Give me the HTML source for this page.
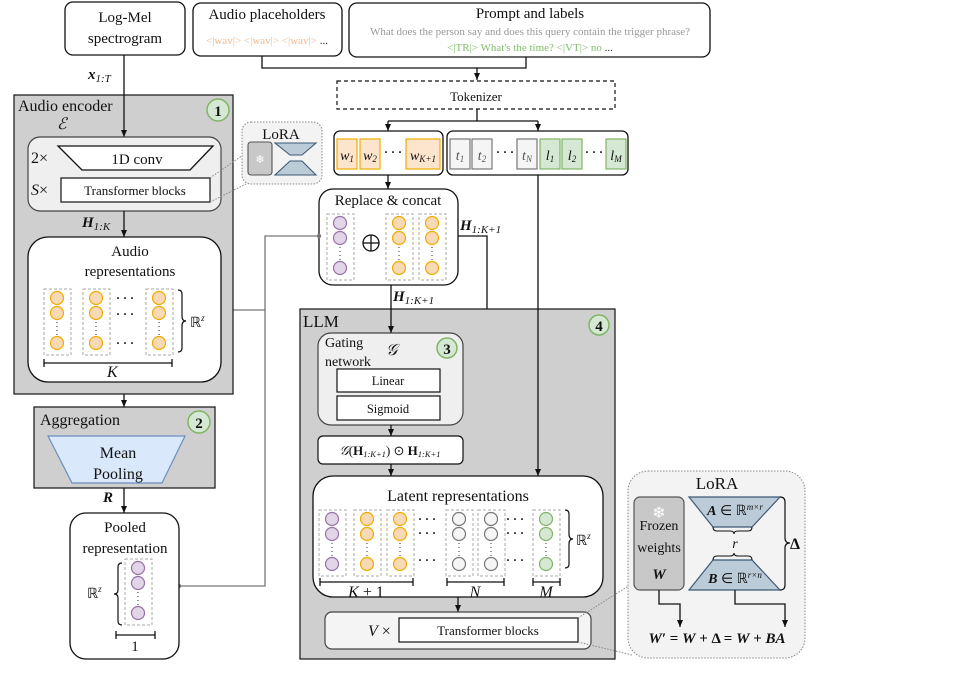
<!DOCTYPE html>
<html><head><meta charset="utf-8"><style>
html,body{margin:0;padding:0;background:#fff}
svg{display:block}
text{font-family:"Liberation Serif",serif;fill:#111}
.i{font-style:italic}
.b{font-weight:bold}
</style></head><body>
<svg width="964" height="676" viewBox="0 0 964 676" xmlns="http://www.w3.org/2000/svg">
<defs>
<marker id="ar" markerWidth="8" markerHeight="8" refX="7" refY="4" orient="auto" markerUnits="userSpaceOnUse"><path d="M0,1 L7,4 L0,7 z" fill="#111"/></marker>
<g id="oc"><rect x="-13" y="-9" width="27" height="66" fill="none" stroke="#aaa" stroke-dasharray="3,2"/><circle cx="0" cy="0" r="6.5" fill="#f8d9b5" stroke="#f0ad00" stroke-width="1.2"/><circle cx="0" cy="15" r="6.5" fill="#f8d9b5" stroke="#f0ad00" stroke-width="1.2"/><circle cx="0" cy="45" r="6.5" fill="#f8d9b5" stroke="#f0ad00" stroke-width="1.2"/><line x1="0" y1="24" x2="0" y2="37" stroke="#333" stroke-dasharray="1,3"/></g>
<g id="pc"><rect x="-13" y="-9" width="27" height="66" fill="none" stroke="#aaa" stroke-dasharray="3,2"/><circle cx="0" cy="0" r="6.5" fill="#e1d5e7" stroke="#9673a6" stroke-width="1.2"/><circle cx="0" cy="15" r="6.5" fill="#e1d5e7" stroke="#9673a6" stroke-width="1.2"/><circle cx="0" cy="45" r="6.5" fill="#e1d5e7" stroke="#9673a6" stroke-width="1.2"/><line x1="0" y1="24" x2="0" y2="37" stroke="#333" stroke-dasharray="1,3"/></g>
<g id="gc"><rect x="-13" y="-9" width="27" height="66" fill="none" stroke="#aaa" stroke-dasharray="3,2"/><circle cx="0" cy="0" r="6.5" fill="#f5f5f5" stroke="#777" stroke-width="1.2"/><circle cx="0" cy="15" r="6.5" fill="#f5f5f5" stroke="#777" stroke-width="1.2"/><circle cx="0" cy="45" r="6.5" fill="#f5f5f5" stroke="#777" stroke-width="1.2"/><line x1="0" y1="24" x2="0" y2="37" stroke="#333" stroke-dasharray="1,3"/></g>
<g id="lc"><rect x="-13" y="-9" width="27" height="66" fill="none" stroke="#aaa" stroke-dasharray="3,2"/><circle cx="0" cy="0" r="6.5" fill="#d5e8d4" stroke="#82b366" stroke-width="1.2"/><circle cx="0" cy="15" r="6.5" fill="#d5e8d4" stroke="#82b366" stroke-width="1.2"/><circle cx="0" cy="45" r="6.5" fill="#d5e8d4" stroke="#82b366" stroke-width="1.2"/><line x1="0" y1="24" x2="0" y2="37" stroke="#333" stroke-dasharray="1,3"/></g>
</defs>

<rect x="65" y="2" width="120" height="53" rx="8" fill="#fff" stroke="#111" stroke-width="1.3"/>
<text x="125" y="22" font-size="15" text-anchor="middle">Log-Mel</text>
<text x="125" y="43" font-size="15" text-anchor="middle">spectrogram</text>
<rect x="193" y="3" width="149" height="53" rx="8" fill="#fff" stroke="#111" stroke-width="1.3"/>
<text x="267" y="19" font-size="15" text-anchor="middle">Audio placeholders</text>
<text x="267" y="44" font-size="11" text-anchor="middle" style="fill:#f5b88a">&lt;|wav|&gt; &lt;|wav|&gt; &lt;|wav|&gt; <tspan style="fill:#333">...</tspan></text>
<rect x="349" y="3" width="361" height="54" rx="8" fill="#fff" stroke="#111" stroke-width="1.3"/>
<text x="530" y="18" font-size="15" text-anchor="middle">Prompt and labels</text>
<text x="530" y="35" font-size="11" text-anchor="middle" style="fill:#999">What does the person say and does this query contain the trigger phrase?</text>
<text x="530" y="51" font-size="11" text-anchor="middle" style="fill:#7fbf6a">&lt;|TR|&gt; What's the time? &lt;|VT|&gt; no <tspan style="fill:#333">...</tspan></text>

<polyline points="262,56 262,68 526,68 526,57" fill="none" stroke="#111" stroke-width="1.3"/>
<line x1="477" y1="68" x2="477" y2="80" stroke="#111" stroke-width="1.3" marker-end="url(#ar)"/>
<rect x="337" y="81" width="278" height="28" fill="#fff" stroke="#111" stroke-width="1.2" stroke-dasharray="4,3"/>
<text x="476" y="101" font-size="13" text-anchor="middle">Tokenizer</text>
<line x1="477" y1="109" x2="477" y2="121" stroke="#111" stroke-width="1.3"/>
<line x1="388" y1="121" x2="538" y2="121" stroke="#111" stroke-width="1.3"/>
<line x1="388" y1="121" x2="388" y2="131" stroke="#111" stroke-width="1.3" marker-end="url(#ar)"/>
<line x1="538" y1="121" x2="538" y2="131" stroke="#111" stroke-width="1.3" marker-end="url(#ar)"/>

<rect x="334" y="131" width="109" height="44" rx="6" fill="#fff" stroke="#111" stroke-width="1.3"/>
<rect x="337" y="139" width="20" height="30" fill="#fde4cc" stroke="#f0ad00" stroke-width="1.2"/>
<rect x="360" y="139" width="20" height="30" fill="#fde4cc" stroke="#f0ad00" stroke-width="1.2"/>
<rect x="406" y="139" width="34" height="30" fill="#fde4cc" stroke="#f0ad00" stroke-width="1.2"/>
<text x="347" y="160" font-size="14" text-anchor="middle" class="i">w<tspan font-size="9" dy="2">1</tspan></text>
<text x="370" y="160" font-size="14" text-anchor="middle" class="i">w<tspan font-size="9" dy="2">2</tspan></text>
<text x="393" y="156" font-size="12" text-anchor="middle" class="b">· · ·</text>
<text x="423" y="160" font-size="14" text-anchor="middle" class="i">w<tspan font-size="9" dy="2">K+1</tspan></text>
<rect x="447" y="131" width="181" height="44" rx="6" fill="#fff" stroke="#111" stroke-width="1.3"/>
<g stroke="#777" stroke-width="1.2" fill="#f5f5f5"><rect x="450" y="139" width="20" height="30"/><rect x="472" y="139" width="20" height="30"/><rect x="517" y="139" width="20" height="30"/></g>
<g stroke="#82b366" stroke-width="1.2" fill="#d5e8d4"><rect x="540" y="139" width="20" height="30"/><rect x="562" y="139" width="20" height="30"/><rect x="606" y="139" width="20" height="30"/></g>
<text x="460" y="160" font-size="14" text-anchor="middle" class="i" style="fill:#555">t<tspan font-size="9" dy="2">1</tspan></text>
<text x="482" y="160" font-size="14" text-anchor="middle" class="i" style="fill:#555">t<tspan font-size="9" dy="2">2</tspan></text>
<text x="505" y="156" font-size="12" text-anchor="middle" class="b">· · ·</text>
<text x="527" y="160" font-size="14" text-anchor="middle" class="i" style="fill:#555">t<tspan font-size="9" dy="2">N</tspan></text>
<text x="550" y="160" font-size="14" text-anchor="middle" class="i">l<tspan font-size="9" dy="2">1</tspan></text>
<text x="572" y="160" font-size="14" text-anchor="middle" class="i">l<tspan font-size="9" dy="2">2</tspan></text>
<text x="594" y="156" font-size="12" text-anchor="middle" class="b">· · ·</text>
<text x="616" y="160" font-size="14" text-anchor="middle" class="i">l<tspan font-size="9" dy="2">M</tspan></text>

<line x1="388" y1="175" x2="388" y2="189" stroke="#111" stroke-width="1.3" marker-end="url(#ar)"/>
<rect x="319" y="189" width="139" height="96" rx="14" fill="#fff" stroke="#111" stroke-width="1.3"/>
<text x="388" y="205" font-size="15" text-anchor="middle">Replace &amp; concat</text>
<use href="#pc" x="340" y="223"/>
<use href="#oc" x="399" y="223"/>
<use href="#oc" x="432" y="223"/>
<circle cx="371" cy="243" r="8" fill="none" stroke="#111" stroke-width="1.3"/>
<line x1="363" y1="243" x2="379" y2="243" stroke="#111" stroke-width="1.3"/><line x1="371" y1="235" x2="371" y2="251" stroke="#111" stroke-width="1.3"/>

<text x="460" y="230" font-size="15" class="i b">H<tspan font-size="11" dy="3" font-weight="normal">1:K+1</tspan></text>
<polyline points="458,236 487,236 487,448 468,448" fill="none" stroke="#111" stroke-width="1.3" marker-end="url(#ar)"/>

<polyline points="221,310 265,310 265,236 319,236" fill="none" stroke="#777" stroke-width="1.3"/>
<polyline points="179,586 265,586 265,310" fill="none" stroke="#777" stroke-width="1.3"/>
<circle cx="221" cy="310" r="2.2" fill="#777"/><circle cx="319" cy="236" r="2.2" fill="#777"/><circle cx="179" cy="586" r="2.2" fill="#777"/>

<rect x="300" y="309" width="315" height="350" fill="#cfcfcf" stroke="#222" stroke-width="1.3"/>
<text x="303" y="327" font-size="17">LLM</text>
<circle cx="599" cy="325" r="10" fill="#d5e8d4" stroke="#82b366" stroke-width="1.5"/><text x="599" y="331" font-size="15" class="b" text-anchor="middle">4</text>
<line x1="391" y1="285" x2="391" y2="333" stroke="#111" stroke-width="1.3" marker-end="url(#ar)"/>
<text x="393" y="301" font-size="15" class="i b">H<tspan font-size="11" dy="3" font-weight="normal">1:K+1</tspan></text>
<line x1="538" y1="175" x2="538" y2="476" stroke="#111" stroke-width="1.3" marker-end="url(#ar)"/>

<rect x="318" y="333" width="145" height="92" rx="13" fill="#efefef" stroke="#444" stroke-width="1.2"/>
<text x="325" y="347" font-size="14">Gating</text>
<text x="325" y="366" font-size="14">network</text>
<text x="386" y="355" font-size="16" class="i">𝒢</text>
<circle cx="447" cy="348" r="10" fill="#d5e8d4" stroke="#82b366" stroke-width="1.5"/><text x="447" y="354" font-size="15" class="b" text-anchor="middle">3</text>
<rect x="337" y="369" width="103" height="23" fill="#fff" stroke="#111" stroke-width="1.2"/>
<text x="388" y="385" font-size="12.5" text-anchor="middle">Linear</text>
<rect x="337" y="396" width="103" height="24" fill="#fff" stroke="#111" stroke-width="1.2"/>
<text x="388" y="413" font-size="12.5" text-anchor="middle">Sigmoid</text>
<line x1="391" y1="425" x2="391" y2="436" stroke="#111" stroke-width="1.3" marker-end="url(#ar)"/>
<rect x="318" y="436" width="145" height="28" rx="5" fill="#fff" stroke="#111" stroke-width="1.2"/>
<text x="390" y="455" font-size="13" text-anchor="middle"><tspan class="i">𝒢</tspan>(<tspan font-weight="bold">H</tspan><tspan font-size="8.5" dy="2" class="i">1:K+1</tspan><tspan dy="-2">) ⊙ </tspan><tspan font-weight="bold">H</tspan><tspan font-size="8.5" dy="2" class="i">1:K+1</tspan></text>
<line x1="391" y1="464" x2="391" y2="476" stroke="#111" stroke-width="1.3" marker-end="url(#ar)"/>

<rect x="313" y="476" width="290" height="121" rx="20" fill="#fff" stroke="#111" stroke-width="1.3"/>
<text x="458" y="501" font-size="16" text-anchor="middle">Latent representations</text>
<use href="#pc" x="332" y="519"/>
<use href="#oc" x="367" y="519"/>
<use href="#oc" x="400" y="519"/>
<use href="#gc" x="459" y="519"/>
<use href="#gc" x="491" y="519"/>
<use href="#lc" x="546" y="519"/>
<g font-size="12" class="b"><text x="418" y="523">· · ·</text><text x="418" y="537">· · ·</text><text x="418" y="564">· · ·</text>
<text x="506" y="523">· · ·</text><text x="506" y="537">· · ·</text><text x="506" y="564">· · ·</text></g>
<path d="M565,510 q4,0 4,4 v20 q0,5 4,5 q-4,0 -4,5 v20 q0,4 -4,4" fill="none" stroke="#111" stroke-width="1.2"/>
<text x="576" y="545" font-size="14">ℝ<tspan font-size="9" dy="-6" class="i">z</tspan></text>
<g stroke="#111" stroke-width="1.3"><line x1="320" y1="582" x2="413" y2="582"/><line x1="320" y1="578" x2="320" y2="586"/><line x1="413" y1="578" x2="413" y2="586"/>
<line x1="447" y1="582" x2="504" y2="582"/><line x1="447" y1="578" x2="447" y2="586"/><line x1="504" y1="578" x2="504" y2="586"/>
<line x1="533" y1="582" x2="560" y2="582"/><line x1="533" y1="578" x2="533" y2="586"/><line x1="560" y1="578" x2="560" y2="586"/></g>
<text x="366" y="597" font-size="16" text-anchor="middle" class="i">K <tspan font-style="normal">+ 1</tspan></text>
<text x="475" y="597" font-size="16" text-anchor="middle" class="i">N</text>
<text x="546" y="597" font-size="16" text-anchor="middle" class="i">M</text>
<line x1="458" y1="597" x2="458" y2="612" stroke="#111" stroke-width="1.3" marker-end="url(#ar)"/>
<rect x="325" y="612" width="266" height="37" rx="7" fill="#f4f4f4" stroke="#444" stroke-width="1.2"/>
<text x="368" y="636" font-size="16"><tspan class="i">V</tspan> ×</text>
<rect x="399" y="618" width="179" height="24" fill="#fff" stroke="#111" stroke-width="1.2"/>
<text x="488" y="635" font-size="13" text-anchor="middle">Transformer blocks</text>

<rect x="14" y="95" width="219" height="299" fill="#cfcfcf" stroke="#222" stroke-width="1.3"/>
<text x="18" y="111" font-size="16">Audio encoder</text>
<text x="57" y="129" font-size="16" class="i">ℰ</text>
<circle cx="218" cy="110" r="11" fill="#d5e8d4" stroke="#82b366" stroke-width="1.5"/><text x="218" y="116" font-size="15" class="b" text-anchor="middle">1</text>
<line x1="124" y1="55" x2="124" y2="137" stroke="#111" stroke-width="1.3" marker-end="url(#ar)"/>
<text x="88" y="79" font-size="15" class="i b">x<tspan font-size="11" dy="3" font-weight="normal">1:T</tspan></text>
<rect x="28" y="137" width="193" height="74" rx="12" fill="#efefef" stroke="#444" stroke-width="1.2"/>
<text x="31" y="163" font-size="16">2×</text>
<polygon points="58,146 213,146 190,170 82,170" fill="#fff" stroke="#111" stroke-width="1.3"/>
<text x="137" y="164" font-size="15" text-anchor="middle">1D conv</text>
<text x="31" y="195" font-size="16"><tspan class="i">S</tspan>×</text>
<rect x="61" y="178" width="149" height="24" fill="#fff" stroke="#111" stroke-width="1.2"/>
<text x="135" y="195" font-size="13" text-anchor="middle">Transformer blocks</text>
<line x1="124" y1="211" x2="124" y2="237" stroke="#111" stroke-width="1.3" marker-end="url(#ar)"/>
<text x="82" y="227" font-size="15" class="i b">H<tspan font-size="11" dy="3" font-weight="normal">1:K</tspan></text>
<rect x="28" y="237" width="193" height="145" rx="20" fill="#fff" stroke="#111" stroke-width="1.3"/>
<text x="130" y="256" font-size="15" text-anchor="middle">Audio</text>
<text x="130" y="276" font-size="15" text-anchor="middle">representations</text>
<use href="#oc" x="57" y="298"/><use href="#oc" x="96" y="298"/><use href="#oc" x="159" y="298"/>
<g font-size="12" class="b"><text x="116" y="302">· · ·</text><text x="116" y="318">· · ·</text><text x="116" y="347">· · ·</text></g>
<path d="M178,290 q4,0 4,4 v22 q0,5 4,5 q-4,0 -4,5 v22 q0,4 -4,4" fill="none" stroke="#111" stroke-width="1.2"/>
<text x="190" y="327" font-size="14">ℝ<tspan font-size="9" dy="-6" class="i">z</tspan></text>
<g stroke="#111" stroke-width="1.3"><line x1="44" y1="363" x2="172" y2="363"/><line x1="44" y1="359" x2="44" y2="367"/><line x1="172" y1="359" x2="172" y2="367"/></g>
<text x="107" y="377" font-size="16" class="i">K</text>

<line x1="124" y1="394" x2="124" y2="407" stroke="#111" stroke-width="1.3" marker-end="url(#ar)"/>
<rect x="34" y="407" width="181" height="81" fill="#cfcfcf" stroke="#222" stroke-width="1.3"/>
<text x="40" y="425" font-size="16">Aggregation</text>
<circle cx="199" cy="422" r="11" fill="#d5e8d4" stroke="#82b366" stroke-width="1.5"/><text x="199" y="428" font-size="15" class="b" text-anchor="middle">2</text>
<polygon points="48,436 185,436 162,483 72,483" fill="#dae8fc" stroke="#6c8ebf" stroke-width="1.2"/>
<text x="118" y="458" font-size="16" text-anchor="middle">Mean</text>
<text x="118" y="479" font-size="16" text-anchor="middle">Pooling</text>
<line x1="124" y1="488" x2="124" y2="513" stroke="#111" stroke-width="1.3" marker-end="url(#ar)"/>
<text x="103" y="502" font-size="15" class="i b">R</text>
<rect x="70" y="513" width="109" height="146" rx="16" fill="#fff" stroke="#111" stroke-width="1.3"/>
<text x="125" y="532" font-size="15" text-anchor="middle">Pooled</text>
<text x="125" y="553" font-size="15" text-anchor="middle">representation</text>
<use href="#pc" x="138" y="568"/>
<path d="M122,563 q-4,0 -4,4 v23 q0,4 -4,4 q4,0 4,4 v23 q0,4 4,4" fill="none" stroke="#111" stroke-width="1.2"/>
<text x="87" y="598" font-size="14">ℝ<tspan font-size="9" dy="-6" class="i">z</tspan></text>
<g stroke="#111" stroke-width="1.3"><line x1="116" y1="635" x2="155" y2="635"/><line x1="116" y1="631" x2="116" y2="639"/><line x1="155" y1="631" x2="155" y2="639"/></g>
<text x="135" y="651" font-size="15" text-anchor="middle">1</text>

<line x1="210" y1="178" x2="243" y2="155" stroke="#888" stroke-dasharray="1.5,1.5"/>
<line x1="210" y1="202" x2="246" y2="184" stroke="#888" stroke-dasharray="1.5,1.5"/>
<rect x="242" y="122" width="80" height="62" rx="9" fill="#f3f3f3" stroke="#888" stroke-dasharray="1.5,1.5"/>
<text x="281" y="139" font-size="15" text-anchor="middle">LoRA</text>
<rect x="248" y="142" width="24" height="33" rx="3" fill="#c8c8c8" stroke="#555" stroke-width="1.1"/>
<text x="260" y="163" font-size="11" text-anchor="middle" style="fill:#fff">❄</text>
<polygon points="275,143 316,143 302,155 290,155" fill="#bccbd8" stroke="#3d5a75" stroke-width="1.1"/>
<polygon points="290,161 302,161 316,175 275,175" fill="#bccbd8" stroke="#3d5a75" stroke-width="1.1"/>

<line x1="578" y1="618" x2="630" y2="585" stroke="#888" stroke-dasharray="1.5,1.5"/>
<line x1="578" y1="642" x2="632" y2="655" stroke="#888" stroke-dasharray="1.5,1.5"/>
<rect x="628" y="471" width="177" height="187" rx="20" fill="#f3f3f3" stroke="#888" stroke-dasharray="1.5,1.5"/>
<text x="717" y="489" font-size="17" text-anchor="middle">LoRA</text>
<rect x="634" y="497" width="50" height="93" rx="6" fill="#c8c8c8" stroke="#555" stroke-width="1.2"/>
<text x="659" y="518" font-size="16" text-anchor="middle" style="fill:#fff">❄</text>
<text x="659" y="530" font-size="14" text-anchor="middle">Frozen</text>
<text x="659" y="552" font-size="14" text-anchor="middle">weights</text>
<text x="659" y="579" font-size="15" text-anchor="middle" class="i b">W</text>
<polygon points="689,497 780,497 752,527 713,527" fill="#bccbd8" stroke="#3d5a75" stroke-width="1.2"/>
<text x="735" y="515" font-size="14" text-anchor="middle"><tspan class="i b">A</tspan> ∈ ℝ<tspan font-size="9" dy="-5" class="i">m×r</tspan></text>
<polygon points="713,560 752,560 780,590 689,590" fill="#bccbd8" stroke="#3d5a75" stroke-width="1.2"/>
<text x="735" y="583" font-size="14" text-anchor="middle"><tspan class="i b">B</tspan> ∈ ℝ<tspan font-size="9" dy="-5" class="i">r×n</tspan></text>
<path d="M713,527 q0,4 4,4 h13 q4,0 4,3 q0,-3 4,-3 h10 q4,0 4,-4" fill="none" stroke="#111" stroke-width="1.1"/>
<path d="M713,560 q0,-4 4,-4 h13 q4,0 4,-3 q0,3 4,3 h10 q4,0 4,4" fill="none" stroke="#111" stroke-width="1.1"/>
<text x="735" y="548" font-size="14" text-anchor="middle" class="i">r</text>
<path d="M780,497 q5,0 5,5 v36 q0,5 5,5 q-5,0 -5,5 v37 q0,5 -5,5" fill="none" stroke="#111" stroke-width="1.2"/>
<text x="790" y="549" font-size="16" class="b">Δ</text>
<polyline points="659,590 659,604 680,604 680,627" fill="none" stroke="#111" stroke-width="1.3" marker-end="url(#ar)"/>
<polyline points="735,590 735,604 785,604 785,627" fill="none" stroke="#111" stroke-width="1.3" marker-end="url(#ar)"/>
<text x="717" y="643" font-size="15" text-anchor="middle" class="b"><tspan class="i">W′</tspan> = <tspan class="i">W</tspan> + Δ = <tspan class="i">W</tspan> + <tspan class="i">BA</tspan></text>
</svg>
</body></html>
